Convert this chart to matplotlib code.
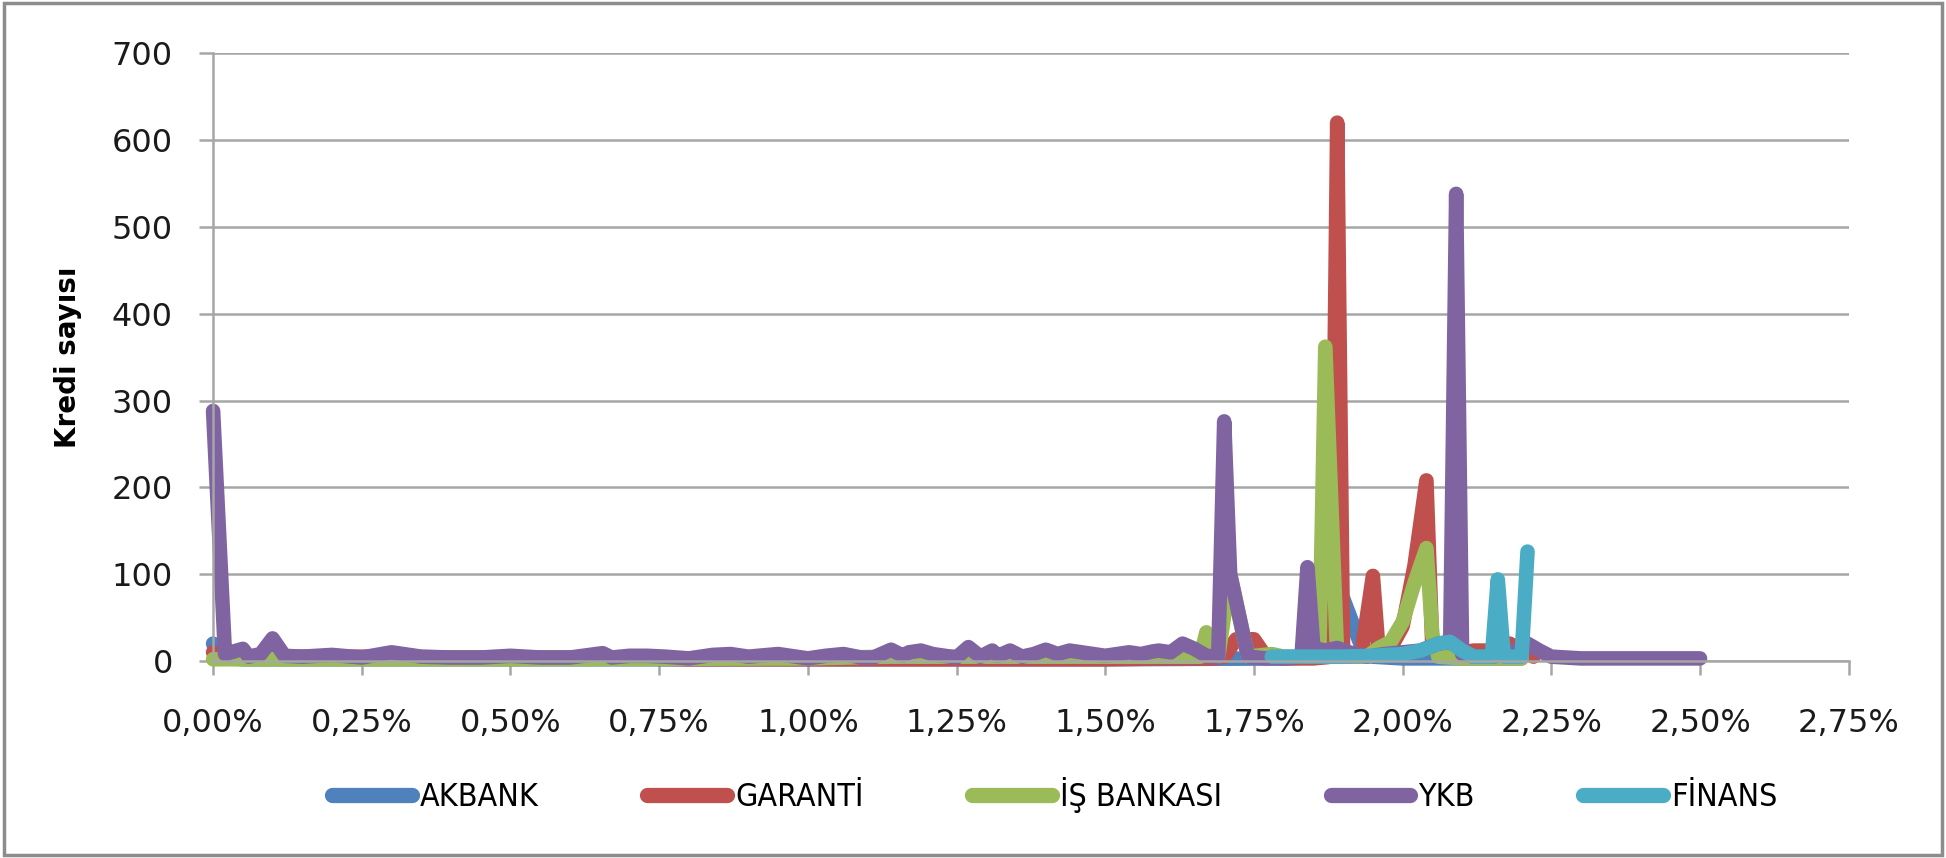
import matplotlib
matplotlib.use("Agg")
import matplotlib.pyplot as plt
from matplotlib.patches import Rectangle
import numpy as np

# interest rate (%) vs number of loans, per bank
names = ["AKBANK", "GARANTİ", "İŞ BANKASI", "YKB", "FİNANS"]
colors = ["#4F81BD", "#C0504D", "#9BBB59", "#8064A2", "#4BACC6"]

akbank_x = [0.00, 0.01, 0.05, 0.50, 1.00, 1.50, 1.80, 1.88, 1.90, 1.93, 1.95, 2.00, 2.10, 2.20]
akbank_y = [20, 5, 2, 2, 2, 2, 3, 5, 72, 18, 5, 3, 3, 3]

garanti_x = [0.00, 0.01, 0.05, 0.08, 0.10, 0.12, 0.20, 0.30, 0.40, 0.50, 0.60, 0.70, 0.80,
             0.90, 1.00, 1.10, 1.20, 1.30, 1.40, 1.50, 1.60, 1.68, 1.70, 1.72, 1.75, 1.77,
             1.80, 1.85, 1.88, 1.89, 1.90, 1.93, 1.95, 1.96, 1.98, 2.00, 2.02, 2.04, 2.05,
             2.08, 2.12, 2.15, 2.18, 2.20, 2.22]
garanti_y = [10, 5, 3, 3, 10, 5, 5, 5, 4, 4, 4, 3, 2,
             2, 2, 2, 2, 2, 2, 2, 3, 3, 5, 25, 25, 5,
             3, 3, 5, 620, 5, 5, 98, 8, 15, 40, 110, 208, 15,
             8, 12, 12, 20, 12, 5]

isbank_x = [0.00, 0.50, 1.00, 1.13, 1.30, 1.40, 1.50, 1.60, 1.66, 1.67, 1.68, 1.69, 1.71,
            1.74, 1.78, 1.80, 1.85, 1.86, 1.87, 1.89, 1.92, 1.94, 1.96, 1.98, 2.00, 2.02,
            2.04, 2.05, 2.06, 2.10, 2.20]
isbank_y = [2, 2, 3, 5, 5, 5, 5, 5, 5, 33, 8, 5, 100,
            5, 8, 5, 5, 10, 362, 5, 5, 5, 15, 22, 45, 90,
            130, 30, 5, 3, 3]

ykb_x = [0.00, 0.02, 0.03, 0.05, 0.06, 0.08, 0.10, 0.12, 0.15, 0.20, 0.25, 0.30, 0.35,
         0.40, 0.45, 0.50, 0.55, 0.60, 0.655, 0.67, 0.70, 0.73, 0.76, 0.80, 0.84, 0.87,
         0.90, 0.95, 1.00, 1.03, 1.06, 1.09, 1.11, 1.14, 1.16, 1.17, 1.19, 1.21, 1.23,
         1.25, 1.27, 1.29, 1.31, 1.32, 1.34, 1.36, 1.38, 1.40, 1.42, 1.44, 1.46, 1.48,
         1.50, 1.52, 1.54, 1.56, 1.58, 1.59, 1.61, 1.63, 1.65, 1.67, 1.69, 1.70, 1.71,
         1.74, 1.77, 1.80, 1.83, 1.84, 1.85, 1.87, 1.89, 1.91, 1.94, 1.97, 2.00, 2.03,
         2.06, 2.08, 2.09, 2.10, 2.12, 2.15, 2.18, 2.21, 2.23, 2.25, 2.30, 2.40, 2.50]
ykb_y = [288, 8, 10, 14, 5, 8, 26, 6, 5, 7, 4, 10, 5,
         4, 4, 6, 4, 4, 9, 4, 6, 6, 5, 3, 7, 8,
         5, 8, 3, 6, 8, 4, 4, 13, 6, 10, 12, 8, 6,
         4, 16, 5, 12, 6, 12, 5, 8, 13, 8, 12, 10, 8,
         6, 8, 10, 8, 11, 12, 10, 20, 14, 6, 5, 276, 100,
         5, 3, 3, 5, 108, 15, 12, 15, 10, 5, 8, 10, 12,
         20, 22, 538, 8, 5, 5, 8, 20, 12, 5, 3, 3, 3]

finans_x = [1.78, 1.85, 1.90, 1.95, 2.00, 2.03, 2.06, 2.08, 2.10, 2.12, 2.15, 2.16, 2.17,
            2.20, 2.21]
finans_y = [5, 5, 5, 6, 8, 12, 20, 22, 12, 5, 5, 94, 5, 5, 126]

xticks = [0.00, 0.25, 0.50, 0.75, 1.00, 1.25, 1.50, 1.75, 2.00, 2.25, 2.50, 2.75]
yticks = [0, 100, 200, 300, 400, 500, 600, 700]

series_x = [akbank_x, garanti_x, isbank_x, ykb_x, finans_x]
series_y = [akbank_y, garanti_y, isbank_y, ykb_y, finans_y]

fig = plt.figure(figsize=(19.46, 8.58), dpi=100)
ax = fig.add_axes([0.1095, 0.2296, 0.8405, 0.7084])

for xs, ys, name, c in zip(series_x, series_y, names, colors):
    ax.plot(xs, ys, color=c, lw=10.5, label=name,
            solid_capstyle="round", solid_joinstyle="round", clip_on=False)

ax.set_xlim(0, 2.75)
ax.set_ylim(0, 700)
ax.set_xticks(xticks)
ax.set_xticklabels([f"{t:.2f}%".replace(".", ",") for t in xticks])
ax.set_yticks(yticks)

ax.grid(axis="y", color="#A6A6A6", lw=1.8)
ax.set_axisbelow(True)
for s in ["top", "right"]:
    ax.spines[s].set_visible(False)
ax.spines["left"].set_color("#A6A6A6")
ax.spines["bottom"].set_color("#A6A6A6")
ax.spines["left"].set_linewidth(1.8)
ax.spines["bottom"].set_linewidth(1.8)
ax.tick_params(axis="both", colors="#A6A6A6", width=1.8, length=10, labelsize=23,
               labelcolor="#1a1a1a")
ax.tick_params(axis="x", pad=24)
ax.tick_params(axis="y", pad=19)

ax.set_ylabel("Kredi sayısı", fontsize=20, fontweight="bold", labelpad=21)

leg = fig.legend(loc="center", bbox_to_anchor=(0.542, 0.073), ncol=5, frameon=False,
                 handlelength=2.5, columnspacing=3.4, handletextpad=0.25,
                 prop={"family": "DejaVu Sans", "stretch": "condensed", "size": 23})
for h in leg.legend_handles:
    h.set_linewidth(11)

fig.patches.append(Rectangle((0.002, 0.003), 0.996, 0.994, transform=fig.transFigure,
                             fill=False, ec="#8C8C8C", lw=2.5))

fig.savefig("out.png", dpi=100)
